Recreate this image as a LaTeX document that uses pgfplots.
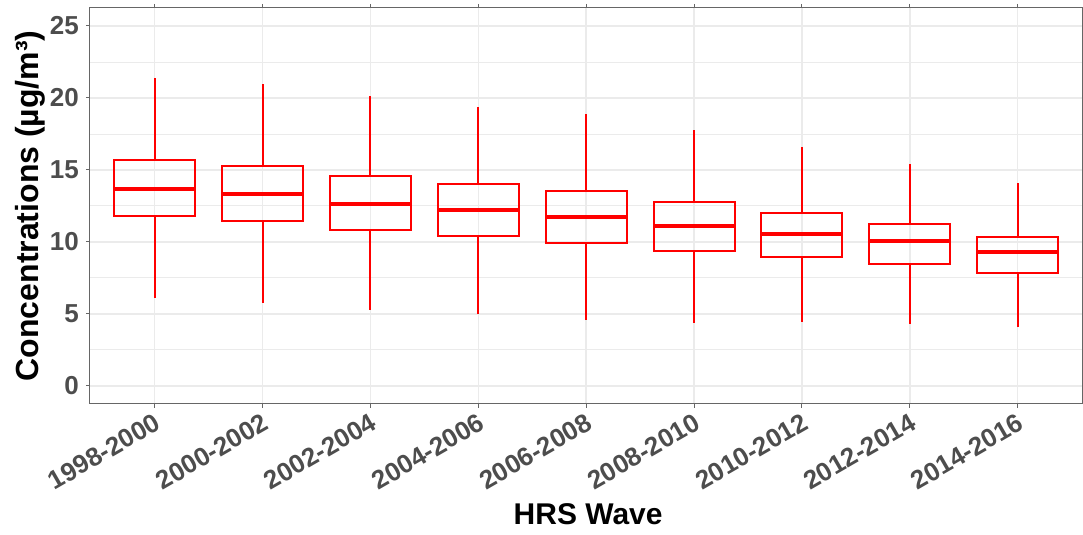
\documentclass[border=0pt]{standalone}
\usepackage{fontspec}
\setmainfont{Liberation Sans}
\usepackage{pgfplots}
\pgfplotsset{compat=1.18}
\usepgfplotslibrary{statistics}
\definecolor{gridgray}{HTML}{EBEBEB}
\definecolor{ticktext}{HTML}{4D4D4D}
\definecolor{framegray}{HTML}{666666}

\begin{document}
\begin{tikzpicture}
\begin{axis}[
  scale only axis, width=496.5pt, height=198pt,
  xmin=0.4, xmax=9.6, ymin=-1.25, ymax=26.25,
  xtick={1,...,9},
  xticklabels={1998-2000,2000-2002,2002-2004,2004-2006,2006-2008,2008-2010,2010-2012,2012-2014,2014-2016},
  ytick={0,5,10,15,20,25},
  yticklabels={0,5,10,15,20,25},
  minor ytick={2.5,7.5,12.5,17.5,22.5},
  grid=both,
  major grid style={gridgray, line width=0.8pt},
  minor grid style={gridgray, line width=0.4pt},
  minor tick length=0pt,
  tick align=outside, major tick length=2pt,
  tick style={framegray, line width=0.5pt},
  axis line style={framegray, line width=0.5pt},
  ticklabel style={font=\fontsize{13}{15}\selectfont\bfseries, text=ticktext},
  x tick label style={rotate=30, anchor=north east, inner sep=1.5pt},
  y tick label style={anchor=east},
  xlabel={HRS Wave},
  ylabel={Concentrations (µg/m³)},
  xlabel style={font=\fontsize{15}{18}\selectfont\bfseries, at={(axis description cs:0.502,-0.278)}, anchor=center},
  ylabel style={font=\fontsize{16}{19}\selectfont\bfseries, at={(axis description cs:-0.0604,0.5)}, anchor=center},
  boxplot/draw direction=y,
  boxplot/whisker extend=0,
  boxplot/box extend=0.75,
  boxplot/every median/.style={line width=2pt},
  /pgf/number format/assume math mode=true,
]
% one box per wave: median, quartiles, whisker ends
\addplot[red, line width=1pt, boxplot prepared={draw position=1, median=13.68, upper quartile=15.67, lower quartile=11.82, upper whisker=21.38, lower whisker=6.08}] coordinates {};
\addplot[red, line width=1pt, boxplot prepared={draw position=2, median=13.32, upper quartile=15.25, lower quartile=11.43, upper whisker=20.97, lower whisker=5.76}] coordinates {};
\addplot[red, line width=1pt, boxplot prepared={draw position=3, median=12.65, upper quartile=14.56, lower quartile=10.83, upper whisker=20.11, lower whisker=5.30}] coordinates {};
\addplot[red, line width=1pt, boxplot prepared={draw position=4, median=12.19, upper quartile=13.99, lower quartile=10.39, upper whisker=19.40, lower whisker=5.00}] coordinates {};
\addplot[red, line width=1pt, boxplot prepared={draw position=5, median=11.73, upper quartile=13.52, lower quartile=9.91, upper whisker=18.89, lower whisker=4.56}] coordinates {};
\addplot[red, line width=1pt, boxplot prepared={draw position=6, median=11.11, upper quartile=12.74, lower quartile=9.38, upper whisker=17.79, lower whisker=4.35}] coordinates {};
\addplot[red, line width=1pt, boxplot prepared={draw position=7, median=10.57, upper quartile=12.03, lower quartile=8.98, upper whisker=16.59, lower whisker=4.45}] coordinates {};
\addplot[red, line width=1pt, boxplot prepared={draw position=8, median=10.05, upper quartile=11.27, lower quartile=8.48, upper whisker=15.44, lower whisker=4.31}] coordinates {};
\addplot[red, line width=1pt, boxplot prepared={draw position=9, median=9.33, upper quartile=10.37, lower quartile=7.86, upper whisker=14.10, lower whisker=4.10}] coordinates {};
\end{axis}
\pgfresetboundingbox
\path ([xshift=-45pt,yshift=-65.5pt]current axis.south west) rectangle ([xshift=0.3pt,yshift=4pt]current axis.north east);
\end{tikzpicture}
\end{document}
